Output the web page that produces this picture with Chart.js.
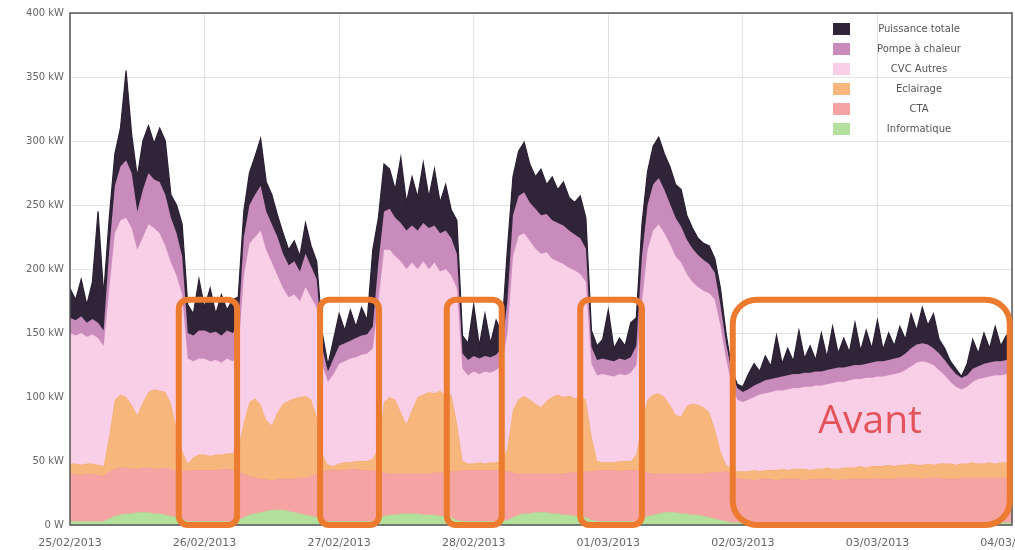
<!DOCTYPE html>
<html>
<head>
<meta charset="utf-8">
<script src="https://cdn.jsdelivr.net/npm/chart.js@4.4.1/dist/chart.umd.min.js"></script>
<style>
  body { margin: 0; background: #fff; }
</style>
</head>
<body>
<canvas id="chart" width="1015" height="550"></canvas>
<script>
// hourly samples from 25/02/2013 00:00 to 04/03/2013 00:00
const hours = Array.from({ length: 169 }, (_, i) => i);
const dateLabels = ['25/02/2013', '26/02/2013', '27/02/2013', '28/02/2013', '01/03/2013', '02/03/2013', '03/03/2013', '04/03/2013'];
const yLabels = ['0 W', '50 kW', '100 kW', '150 kW', '200 kW', '250 kW', '300 kW', '350 kW', '400 kW'];

// upper edge of each stacked band (kW)
const informatique = [
  3,3,3,3,3,3,3,5,7,8,9,9,10,10,10,9,9,8,7,6,5,3,3,3,
  3,3,3,3,3,3,4,6,8,9,10,11,12,12,12,11,10,9,8,7,6,4,3,3,
  3,3,3,3,3,3,3,5,7,8,8,9,9,9,9,8,8,8,7,7,6,4,3,3,
  3,3,3,3,3,3,4,6,8,9,9,10,10,10,9,9,8,8,7,7,6,4,3,3,
  3,3,3,3,3,3,5,7,8,9,10,10,10,9,9,8,8,7,6,5,4,3,2,2,
  2,2,2,2,2,2,2,2,2,2,2,2,2,2,2,2,2,2,2,2,2,2,2,2,
  2,2,2,2,2,2,2,2,2,2,2,2,2,2,2,2,2,2,2,2,2,2,2,2,2
];
const cta = [
  40,40,39,40,40,39,38,42,44,45,45,44,44,45,45,44,44,45,44,43,42,43,43,43,
  43,43,43,44,44,43,42,40,38,37,36,36,35,36,36,36,36,37,37,38,40,42,43,43,
  43,43,44,44,43,43,43,42,41,40,40,40,40,40,40,40,40,41,41,41,42,42,43,43,
  43,43,43,43,43,43,42,41,40,40,40,40,40,40,40,40,40,41,41,41,42,42,43,43,
  43,43,42,43,43,43,42,41,40,40,40,40,40,40,40,40,40,40,41,41,42,42,40,37,
  36,36,35,36,36,36,35,36,36,36,36,35,36,36,36,36,36,35,36,36,36,36,36,36,
  37,36,36,36,37,37,37,37,36,37,37,37,36,36,36,37,37,37,37,37,37,37,37,37,37
];
const eclairage = [
  48,48,47,48,48,47,46,70,98,102,100,94,86,96,104,106,105,104,95,75,58,48,53,55,
  55,54,55,55,56,56,60,80,96,99,94,82,78,88,95,97,99,100,101,98,85,55,47,46,
  48,49,49,50,50,50,52,60,96,100,98,88,79,90,100,102,104,103,105,101,102,80,50,48,
  48,49,48,49,49,50,60,90,98,101,98,95,92,97,100,102,100,101,99,100,98,70,50,49,
  49,49,50,50,50,55,80,98,102,103,100,94,86,85,93,95,94,92,88,75,58,47,44,42,
  42,42,43,42,43,43,43,44,43,44,44,44,43,44,44,45,44,44,45,45,45,46,45,46,
  46,46,47,46,47,47,48,47,47,48,47,48,48,48,47,48,48,49,48,48,49,48,49,49,48
];
const cvcAutres = [
  150,148,150,147,149,146,140,185,228,238,240,232,215,225,235,232,228,218,205,195,180,130,128,130,
  130,128,129,127,130,128,135,195,220,225,230,215,205,195,185,178,180,175,186,178,170,125,112,118,
  126,128,130,131,133,134,138,175,215,215,210,206,200,205,200,206,200,205,198,200,195,185,122,117,
  120,118,120,119,121,125,150,210,226,228,222,216,212,213,208,206,204,201,199,196,190,126,117,118,
  117,116,118,117,119,125,175,215,230,235,228,220,210,205,196,190,186,183,181,176,156,130,110,98,
  96,98,100,102,103,104,105,105,106,107,107,108,108,109,109,110,111,112,112,113,114,114,115,115,
  116,116,117,118,119,121,124,127,128,127,125,121,117,112,108,106,108,112,114,115,116,117,117,118,118
];
const pompeChaleur = [
  162,160,163,158,161,158,152,215,265,280,285,275,245,262,275,270,268,258,240,228,210,150,148,152,
  152,150,151,148,152,150,155,225,250,258,265,245,235,225,212,203,206,198,212,202,192,138,120,130,
  140,142,144,146,148,149,155,205,245,247,240,236,230,234,230,236,232,234,228,230,224,212,134,129,
  132,130,132,131,133,138,175,242,257,260,252,247,242,243,238,236,234,230,227,224,216,139,129,130,
  129,128,130,129,131,140,210,250,266,271,262,251,240,233,223,216,211,207,204,197,172,142,120,107,
  104,106,109,111,113,114,115,116,117,118,118,119,119,120,120,121,122,123,123,124,125,125,126,127,
  128,128,129,130,131,134,138,141,142,141,138,134,129,123,118,115,117,122,124,126,127,128,128,129,129
];
const puissanceTotale = [
  185,176,192,172,190,245,180,240,290,310,355,305,272,300,312,298,310,300,258,250,235,172,165,192,
  170,185,165,180,168,176,178,245,275,288,302,268,258,242,228,215,222,210,236,218,206,150,125,145,
  165,152,168,155,170,160,215,240,282,278,262,287,252,272,256,283,256,278,252,266,246,238,148,142,
  172,140,165,142,160,150,215,272,292,299,282,272,278,266,272,262,268,256,252,257,240,152,140,145,
  168,138,146,140,158,162,235,276,296,303,290,280,266,262,242,232,224,220,218,208,185,150,122,110,
  108,118,126,120,132,124,148,126,138,128,152,130,140,129,150,131,155,134,146,135,158,136,152,138,
  160,137,150,140,155,145,165,152,170,156,165,145,138,128,122,116,126,145,134,150,138,155,140,148,140
];

// highlighted periods (hours from 25/02 00:00) and the "Avant" note
const highlights = [[19.4, 29.8], [44.6, 55.1], [67.2, 77.0], [91.0, 102.0], [118.2, 167.6]];
const highlightTop = 176;
const noteText = 'Avant';
const notePos = { x: 142.7, y: 72 };

const series = [
  { label: 'Puissance totale', data: puissanceTotale, color: '#2f2438', line: '#2a1f33' },
  { label: 'Pompe à chaleur', data: pompeChaleur, color: '#c98bbc', line: '#c283b5' },
  { label: 'CVC Autres', data: cvcAutres, color: '#f9cee7', line: '#f5c3e0' },
  { label: 'Eclairage', data: eclairage, color: '#f6b67c', line: '#f2ab6c' },
  { label: 'CTA', data: cta, color: '#f5a3a3', line: '#f19898' },
  { label: 'Informatique', data: informatique, color: '#b3e09c', line: '#a6d98d' },
];

const frameAndNotes = {
  id: 'frameAndNotes',
  afterDatasetsDraw(chart) {
    const { ctx, chartArea: a, scales: { x, y } } = chart;
    ctx.save();
    ctx.strokeStyle = '#555';
    ctx.lineWidth = 1.5;
    ctx.strokeRect(a.left, a.top, a.right - a.left, a.bottom - a.top);

    ctx.strokeStyle = '#ec7b2f';
    ctx.lineWidth = 6;
    highlights.forEach(([from, to]) => {
      const x1 = x.getPixelForValue(from);
      const x2 = x.getPixelForValue(to);
      const y1 = y.getPixelForValue(highlightTop);
      const y2 = y.getPixelForValue(0);
      ctx.beginPath();
      ctx.roundRect(x1, y1, x2 - x1, y2 - y1, x2 - x1 > 100 ? 24 : 9);
      ctx.stroke();
    });

    ctx.fillStyle = '#e5535a';
    ctx.font = '39px "Open Sans"';
    ctx.textAlign = 'center';
    ctx.textBaseline = 'alphabetic';
    ctx.fillText(noteText, x.getPixelForValue(notePos.x), y.getPixelForValue(notePos.y));

    // legend, top right inside the plot
    ctx.font = '10px "DejaVu Sans"';
    ctx.textBaseline = 'middle';
    series.forEach((s, i) => {
      const cy = a.top + 16 + i * 20;
      ctx.fillStyle = s.color;
      ctx.fillRect(a.right - 179, cy - 6, 17, 12);
      ctx.fillStyle = '#555';
      ctx.fillText(s.label, a.right - 93, cy);
    });
    ctx.restore();
  }
};

new Chart(document.getElementById('chart'), {
  type: 'line',
  data: {
    labels: hours,
    datasets: series.map((s, i) => ({
      label: s.label,
      data: s.data,
      backgroundColor: s.color,
      borderColor: s.line,
      borderWidth: i === 0 ? 1.2 : 1,
      pointRadius: 0,
      tension: 0,
      fill: i === series.length - 1 ? 'origin' : '+1',
    })),
  },
  options: {
    responsive: false,
    animation: false,
    layout: { padding: { top: 13, right: 3, left: 0, bottom: 0 } },
    plugins: {
      legend: { display: false },
      tooltip: { enabled: false },
    },
    scales: {
      x: {
        type: 'linear',
        min: 0,
        max: 168,
        border: { display: false },
        grid: { color: '#e2e2e2', drawTicks: false },
        ticks: {
          stepSize: 24,
          maxRotation: 0,
          autoSkip: false,
          padding: 12,
          color: '#666',
          font: { family: 'DejaVu Sans', size: 11 },
          callback: v => dateLabels[v / 24],
        },
        afterFit(scale) {
          scale.height = 25;
          scale.paddingLeft = 0;
          scale.paddingRight = 0;
        },
      },
      y: {
        min: 0,
        max: 400,
        border: { display: false },
        grid: { color: '#e2e2e2', drawTicks: false },
        ticks: {
          stepSize: 50,
          padding: 6,
          color: '#666',
          font: { family: 'DejaVu Sans', size: 10 },
          callback: v => yLabels[v / 50],
        },
        afterFit(scale) {
          scale.width = 70;
          scale.paddingTop = 0;
          scale.paddingBottom = 0;
        },
      },
    },
  },
  plugins: [frameAndNotes],
});
</script>
</body>
</html>
